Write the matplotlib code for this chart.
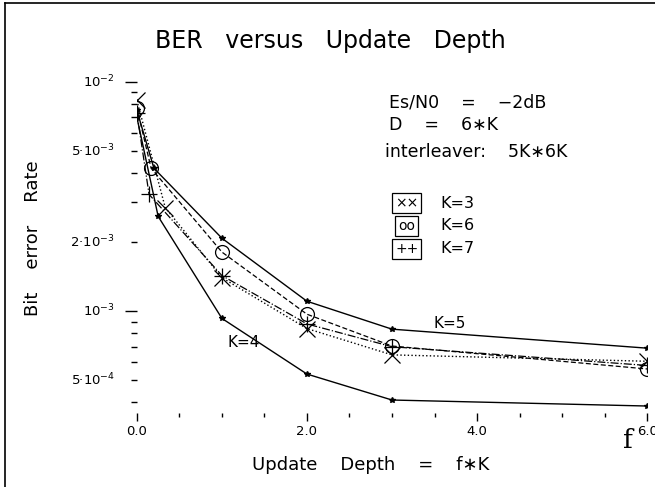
import matplotlib
matplotlib.use("Agg")
import matplotlib.pyplot as plt
from matplotlib.ticker import FixedLocator, NullFormatter

plt.rcParams["font.family"] = "DejaVu Sans"
plt.rcParams["mathtext.default"] = "regular"

# values
f_k3 = [0.0, 0.333, 1.0, 2.0, 3.0, 6.0]
ber_k3 = [8.3e-3, 2.83e-3, 1.40e-3, 8.4e-4, 6.45e-4, 6.05e-4]

f_k4 = [0.0, 0.25, 1.0, 2.0, 3.0, 6.0]
ber_k4 = [7.0e-3, 2.59e-3, 9.3e-4, 5.32e-4, 4.1e-4, 3.86e-4]

f_k5 = [0.0, 0.2, 1.0, 2.0, 3.0, 6.0]
ber_k5 = [7.5e-3, 4.2e-3, 2.08e-3, 1.105e-3, 8.35e-4, 6.9e-4]

f_k6 = [0.0, 0.167, 1.0, 2.0, 3.0, 6.0]
ber_k6 = [7.7e-3, 4.2e-3, 1.81e-3, 9.7e-4, 7.05e-4, 5.6e-4]

f_k7 = [0.0, 0.143, 1.0, 2.0, 3.0, 6.0]
ber_k7 = [7.3e-3, 3.23e-3, 1.43e-3, 8.8e-4, 7.0e-4, 5.8e-4]

ytick_vals = [1e-2, 5e-3, 2e-3, 1e-3, 5e-4]
ytick_labels = ["10$^{-2}$", "5·10$^{-3}$", "2·10$^{-3}$", "10$^{-3}$", "5·10$^{-4}$"]
xtick_vals = [0, 2, 4, 6]
xtick_labels = ["0.0", "2.0", "4.0", "6.0"]

fig = plt.figure(figsize=(6.55, 4.87), dpi=100)
ax = fig.add_axes([0.209, 0.152, 0.779, 0.680])

ax.plot(f_k5, ber_k5, "-", color="black", lw=1.0, marker="*", ms=4)
ax.plot(f_k4, ber_k4, "-", color="black", lw=1.0, marker="*", ms=4)
ax.plot(f_k6, ber_k6, "--", color="black", lw=0.9, marker="o", ms=10,
        mfc="none", mew=0.9, dashes=(4, 2))
ax.plot(f_k3, ber_k3, ":", color="black", lw=1.0, marker="x", ms=11, mew=0.9)
ax.plot(f_k7, ber_k7, "-.", color="black", lw=0.9, marker="+", ms=12, mew=0.9)

ax.set_yscale("log")
ax.set_xlim(0, 6)
ax.set_ylim(3.6e-4, 1e-2)

for s in ax.spines.values():
    s.set_visible(False)

ax.yaxis.set_major_locator(FixedLocator([1e-2, 1e-3]))
minor_y = [m * 1e-4 for m in range(4, 10)] + [m * 1e-3 for m in range(2, 10)]
ax.yaxis.set_minor_locator(FixedLocator(minor_y))
ax.yaxis.set_major_formatter(NullFormatter())
ax.yaxis.set_minor_formatter(NullFormatter())
ax.tick_params(axis="y", which="major", direction="out", length=9, width=1.0,
               pad=2)
ax.tick_params(axis="y", which="minor", direction="out", length=4, width=1.0)
for v, lab in zip(ytick_vals, ytick_labels):
    ax.text(-0.043, v, lab, fontsize=9.5, ha="right", va="center",
            transform=ax.get_yaxis_transform())

ax.xaxis.set_major_locator(FixedLocator(xtick_vals))
ax.xaxis.set_minor_locator(FixedLocator([0.5 * i for i in range(13)]))
ax.set_xticklabels(xtick_labels, fontsize=9.5)
ax.tick_params(axis="x", which="major", direction="out", length=6, width=1.0,
               pad=3)
ax.tick_params(axis="x", which="minor", direction="out", length=3, width=1.0)

ax.text(1.25, 7.3e-4, "K=4", fontsize=11, ha="center", va="center")
ax.text(3.68, 8.8e-4, "K=5", fontsize=11, ha="center", va="center")

fig.text(0.505, 0.915, "BER   versus   Update   Depth", fontsize=17,
         ha="center", va="center")
fig.text(0.566, 0.045, "Update    Depth    =    f∗K", fontsize=13,
         ha="center", va="center")
fig.text(0.05, 0.51, "Bit    error    Rate", fontsize=13, rotation=90,
         ha="center", va="center")
fig.text(0.958, 0.095, "f", fontsize=19, family="DejaVu Serif",
         ha="center", va="center")

fig.text(0.594, 0.79, "Es/N0    =    −2dB", fontsize=12.5, va="center")
fig.text(0.594, 0.743, "D    =    6∗K", fontsize=12.5, va="center")
fig.text(0.588, 0.688, "interleaver:    5K∗6K", fontsize=12.5, va="center")

legend_rows = [("××", "K=3"), ("oo", "K=6"), ("++", "K=7")]
for i, (sym, lab) in enumerate(legend_rows):
    yy = 0.583 - i * 0.047
    fig.text(0.621, yy, sym, fontsize=10, ha="center", va="center",
             bbox=dict(boxstyle="square,pad=0.2", fc="none", ec="black",
                       lw=0.9))
    fig.text(0.672, yy, lab, fontsize=11.5, va="center")

fig.add_artist(plt.Line2D([0.008, 0.008], [0.0, 0.994], color="black",
                          lw=1.2, transform=fig.transFigure))
fig.add_artist(plt.Line2D([0.008, 1.0], [0.994, 0.994], color="black",
                          lw=1.2, transform=fig.transFigure))

fig.savefig("out.png", dpi=100)
